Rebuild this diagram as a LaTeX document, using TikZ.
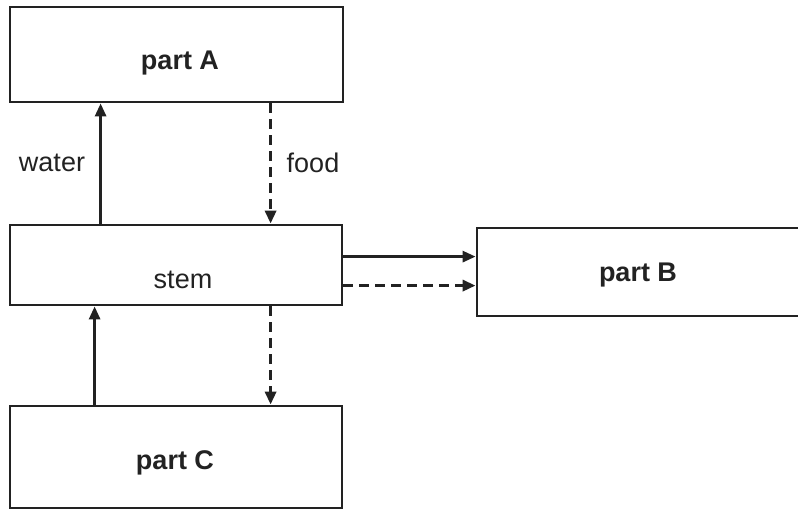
\documentclass[tikz,border=0pt]{standalone}
\usepackage{fontspec}
\setmainfont{Liberation Sans}
\usetikzlibrary{arrows.meta}
\definecolor{ink}{HTML}{222222}
\tikzset{
  box/.style={draw=ink, line width=2.8pt, rectangle, inner sep=0pt, fill=white},
  lbl/.style={text=ink, font=\fontsize{27}{31}\selectfont, inner sep=0pt},
  blbl/.style={text=ink, font=\fontsize{27}{31}\selectfont\bfseries, inner sep=0pt},
  arr/.style={draw=ink, line width=2.8pt, -{Triangle[length=13pt,width=11pt]}},
  darr/.style={arr, line width=3.6pt, dash pattern=on 10pt off 6pt}
}
\begin{document}
\begin{tikzpicture}[x=1pt,y=-1pt]
\useasboundingbox (0,0) rectangle (798,510);
\node[box, minimum width=333pt, minimum height=95pt] (A) at (176.5,54.5) {};
\node[box, minimum width=332pt, minimum height=80pt] (stem) at (176,265) {};
\node[box, minimum width=332pt, minimum height=102pt] (C) at (176,457) {};
\node[box, minimum width=330pt, minimum height=88pt] (B) at (642,272) {};
\node[blbl] (tA) at (180,63) {part A};
\node[lbl] (tstem) at (183,280) {stem};
\node[blbl] (tC) at (175,463) {part C};
\node[blbl] (tB) at (638,275) {part B};
\node[lbl] (water) at (52,163) {water};
\node[lbl] (food) at (313,163) {food};
\draw[arr] ([xshift=92pt]stem.north west) -- ([xshift=92pt]A.south west);
\draw[darr] ([xshift=262pt]A.south west) -- ([xshift=262pt]stem.north west);
\draw[arr] ([xshift=86pt]C.north west) -- ([xshift=86pt]stem.south west);
\draw[darr] ([xshift=262pt]stem.south west) -- ([xshift=262pt]C.north west);
\draw[arr] ([yshift=-33pt]stem.north east) -- ([yshift=-33pt]stem.north east -| B.west);
\draw[darr] ([yshift=-62pt]stem.north east) -- ([yshift=-62pt]stem.north east -| B.west);
\end{tikzpicture}
\end{document}
